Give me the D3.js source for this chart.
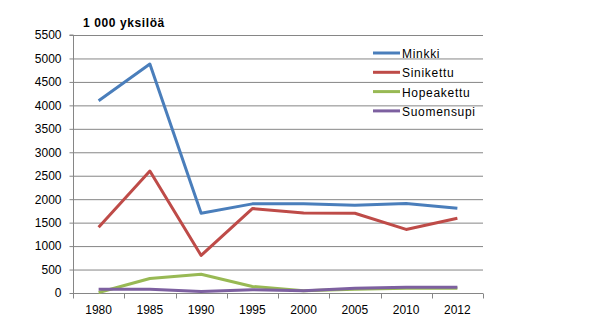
<!DOCTYPE html>
<html><head><meta charset="utf-8">
<script src="https://cdn.jsdelivr.net/npm/d3@7"></script>
<style>body{margin:0;background:#fff}svg{display:block}text{font-family:"Liberation Sans",Arial,sans-serif}</style>
</head><body>
<svg id="c" width="602" height="327"></svg>
<script>
const years = ["1980","1985","1990","1995","2000","2005","2010","2012"];
const minkki = [4100, 4880, 1700, 1900, 1900, 1870, 1910, 1805];
const sinikettu = [1400, 2600, 800, 1800, 1705, 1700, 1355, 1595];
const hopeakettu = [10, 310, 400, 140, 50, 80, 100, 100];
const suomensupi = [80, 80, 30, 70, 50, 100, 120, 120];
const seriesNames = ["Minkki","Sinikettu","Hopeakettu","Suomensupi"];
const seriesColors = ["#4a7ebb","#be4b48","#98b954","#7d60a0"];
const yTicks = d3.range(0, 5501, 500);

const series = [minkki, sinikettu, hopeakettu, suomensupi];
const svg = d3.select("#c");
const L = 73, R = 483, T = 35, B = 293;
const x = d3.scaleBand().domain(years).range([L, R]);
const y = d3.scaleLinear().domain([0, 5500]).range([B, T]);

// gridlines
svg.append("g").selectAll("line").data(yTicks.filter(d=>d>0)).join("line")
  .attr("x1", L).attr("x2", R).attr("y1", d=>y(d)+0.5).attr("y2", d=>y(d)+0.5)
  .attr("stroke", "#868686").attr("stroke-width", 1);

// y axis
const ya = svg.append("g").attr("transform", `translate(${L+0.5},0)`)
  .call(d3.axisLeft(y).tickValues(yTicks).tickSize(4).tickPadding(8).tickFormat(d3.format("d")));
ya.select(".domain").attr("stroke", "#868686").attr("d", `M-4,${T}H0V${B}`);
ya.selectAll(".tick line").attr("stroke", "#868686");
ya.selectAll("text").attr("font-size", 12).attr("fill", "#000").attr("font-family","Liberation Sans, Arial, sans-serif");

// x axis
const xa = svg.append("g").attr("transform", `translate(0,${B+0.5})`);
xa.append("line").attr("x1", L).attr("x2", R).attr("stroke", "#868686");
const bounds = d3.range(years.length + 1).map(i => L + i * x.step());
xa.selectAll("line.t").data(bounds).join("line").attr("class","t")
  .attr("x1", d=>Math.round(d)+0.5).attr("x2", d=>Math.round(d)+0.5).attr("y1", 0).attr("y2", 5)
  .attr("stroke", "#868686");
xa.selectAll("text").data(years).join("text")
  .attr("x", d => x(d) + x.bandwidth()/2).attr("y", 20)
  .attr("text-anchor", "middle").attr("font-size", 12).text(d => d);

// lines
const line = d3.line().x((d,i) => x(years[i]) + x.bandwidth()/2).y(d => y(d));
series.forEach((s, k) => {
  svg.append("path").datum(s).attr("d", line).attr("fill", "none")
    .attr("stroke", seriesColors[k]).attr("stroke-width", 3).attr("stroke-linejoin","round");
});

// title
svg.append("text").attr("x", 83).attr("y", 27).attr("font-size", 12).attr("letter-spacing", 0.6)
  .attr("font-weight", "bold").text("1 000 yksilöä");

// legend
const lg = svg.append("g");
seriesNames.forEach((n, i) => {
  const yy = 53 + i * 19.3;
  lg.append("line").attr("x1", 373).attr("x2", 400).attr("y1", yy).attr("y2", yy)
    .attr("stroke", seriesColors[i]).attr("stroke-width", 3);
  lg.append("text").attr("x", 402).attr("y", yy + 5).attr("font-size", 12).attr("letter-spacing", 0.7).text(n);
});
</script>
</body></html>
